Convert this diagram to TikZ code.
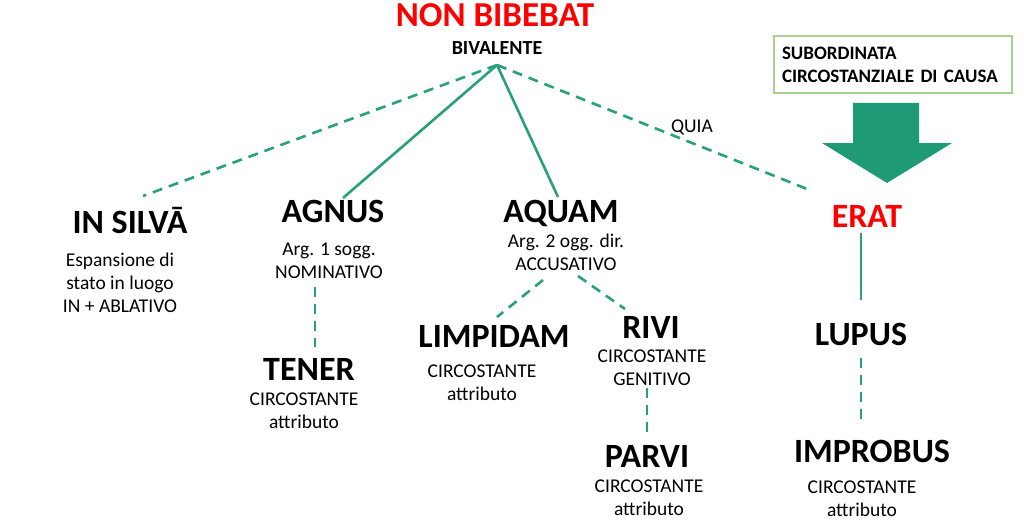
\documentclass[tikz,border=0pt]{standalone}
\usepackage{fontspec}
\setmainfont{Carlito}
\definecolor{linegreen}{RGB}{40,160,122}
\definecolor{arrowgreen}{RGB}{31,154,119}
\definecolor{boxgreen}{RGB}{169,209,142}
\tikzset{
  word/.style={font=\bfseries\fontsize{34}{40}\selectfont, inner sep=0pt, anchor=base},
  desc/.style={font=\fontsize{19.5}{23}\selectfont, align=center, inner sep=0pt, anchor=base},
  link/.style={draw=linegreen, line width=2.6pt},
  dlink/.style={link, dash pattern=on 10pt off 7pt},
  causebox/.style={draw=boxgreen, line width=1.2pt, align=left, text width=222pt,
    inner xsep=8pt, minimum height=57pt, font=\bfseries\fontsize{19}{23}\selectfont}
}
\begin{document}
\begin{tikzpicture}[x=1pt,y=-1pt]
    \useasboundingbox (0,0) rectangle (1024,524);

    \node[word, text=red, font=\bfseries\fontsize{35}{42}\selectfont] (bibebat) at (495,27) {NON BIBEBAT};
    \node[desc, font=\bfseries\fontsize{20}{24}\selectfont] (biv) at (497,55) {BIVALENTE};
    \coordinate (apex) at (497,65);

    % base anchor of a desc node = baseline of its last line
    \node[word] (silva) at (130,233) {IN SILVĀ};
      \node[desc] (silvad) at (120,312) {Espansione di\\stato in luogo\\IN + ABLATIVO};
    \node[word] (agnus) at (333,222) {AGNUS};
      \node[desc] (agnusd) at (329,278) {Arg. 1 sogg.\\NOMINATIVO};
    \node[word] (tener) at (309,380) {TENER};
      \node[desc] (tenerd) at (304,428) {CIRCOSTANTE\\attributo};
    \node[word] (aquam) at (561,222) {AQUAM};
      \node[desc] (aquamd) at (566,270) {Arg. 2 ogg. dir.\\ACCUSATIVO};
    \node[word] (limpidam) at (494,347) {LIMPIDAM};
      \node[desc] (limpidamd) at (482,400) {CIRCOSTANTE\\attributo};
    \node[word] (rivi) at (651,338) {RIVI};
      \node[desc] (rivid) at (652,385) {CIRCOSTANTE\\GENITIVO};
    \node[word] (parvi) at (647,467) {PARVI};
      \node[desc] (parvid) at (649,515) {CIRCOSTANTE\\attributo};
    \node[word, text=red] (erat) at (867,227) {ERAT};
    \node[word] (lupus) at (861,345) {LUPUS};
    \node[word] (improbus) at (872,462) {IMPROBUS};
      \node[desc] (improbusd) at (862,516) {CIRCOSTANTE\\attributo};

    % line ends
    \coordinate (silvaT) at (143,196);
    \coordinate (agnusT) at (343,198);
    \coordinate (aquamT) at (558,197);
    \coordinate (eratT) at (807,189);
    \coordinate (agnusB) at (315,287);
    \coordinate (tenerT) at (315,347);
    \coordinate (aquamBL) at (543,280);
    \coordinate (limpidamT) at (497,317);
    \coordinate (aquamBR) at (578,276);
    \coordinate (riviT) at (625,309);
    \coordinate (riviB) at (647,388);
    \coordinate (parviT) at (647,439);
    \coordinate (eratB) at (861,233);
    \coordinate (lupusT) at (861,300);
    \coordinate (lupusB) at (861,358);
    \coordinate (improbusT) at (861,420);

    \draw[dlink] (apex) -- (silvaT);
    \draw[link] (apex) -- (agnusT);
    \draw[link] (apex) -- (aquamT);
    \draw[dlink] (apex) -- (eratT);
      \node[desc] (quia) at (692,132) {QUIA};
    \draw[dlink] (agnusB) -- (tenerT);
    \draw[dlink] (aquamBL) -- (limpidamT);
    \draw[dlink] (aquamBR) -- (riviT);
    \draw[dlink] (riviB) -- (parviT);
    \draw[link] (eratB) -- (lupusT);
    \draw[dlink] (lupusB) -- (improbusT);

    \node[causebox] (causa) at (893,64.5) {SUBORDINATA\\CIRCOSTANZIALE DI CAUSA};
    \fill[arrowgreen] (853,103) -- (919,103) -- (919,143) -- (952,143) -- (887,183)
      -- (822,143) -- (853,143) -- cycle;
\end{tikzpicture}
\end{document}
